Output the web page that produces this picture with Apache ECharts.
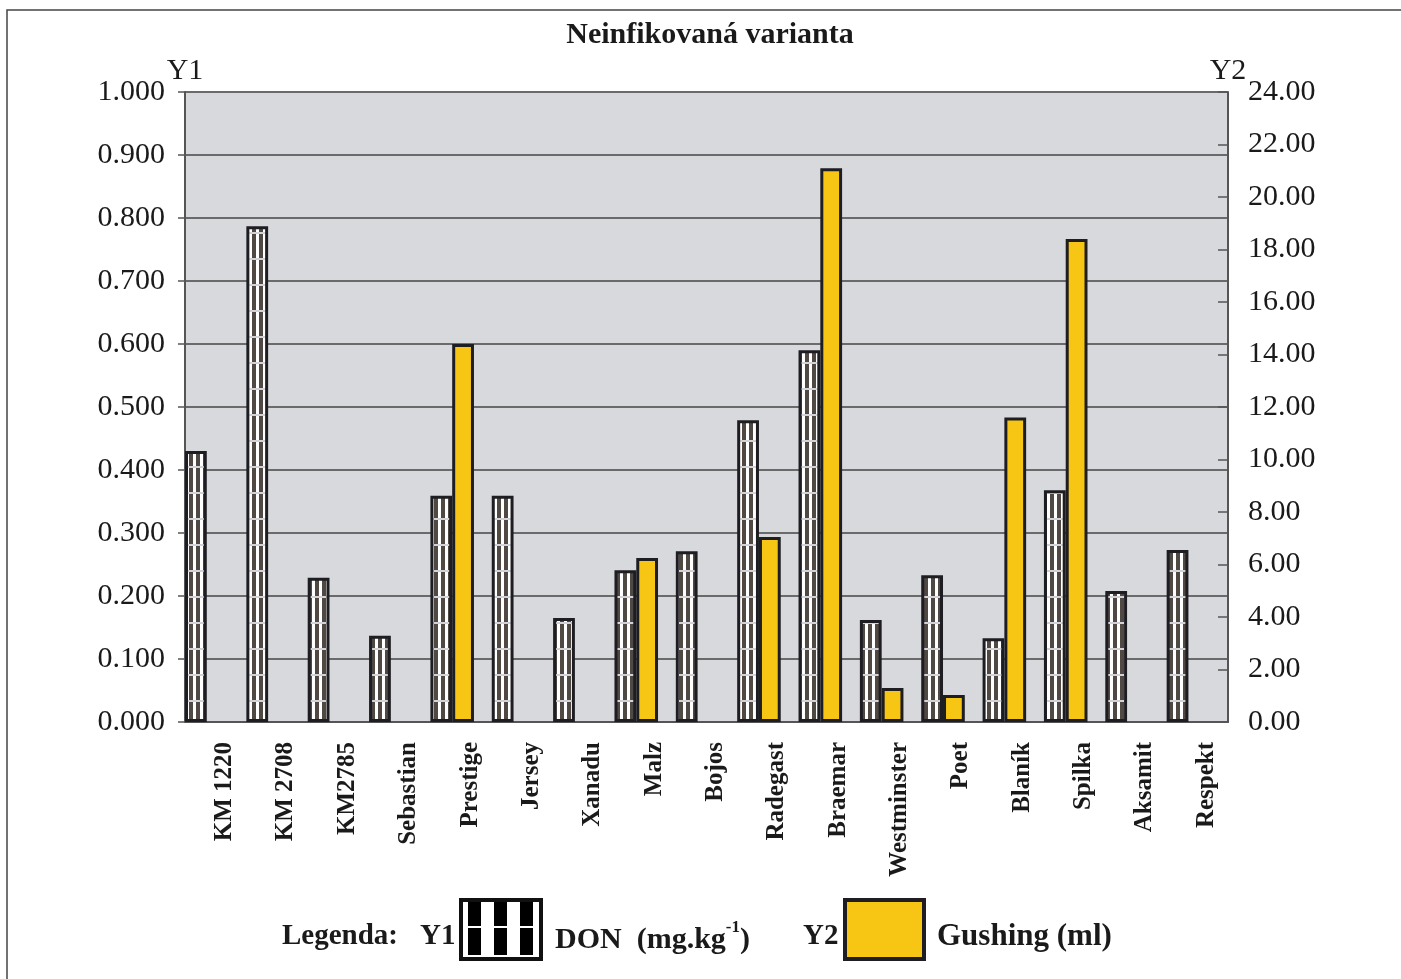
<!DOCTYPE html>
<html>
<head>
<meta charset="utf-8">
<title>Neinfikovaná varianta</title>
<script src="https://cdn.jsdelivr.net/npm/echarts@6/dist/echarts.min.js"></script>
<style>
    html, body { margin: 0; padding: 0; background: #fff; }
    #chart { width: 1401px; height: 979px; }
</style>
</head>
<body>
<div id="chart"></div>
<script>
// odrudy (kategorie)
var odrudy = ['KM 1220', 'KM 2708', 'KM2785', 'Sebastian', 'Prestige', 'Jersey', 'Xanadu', 'Malz', 'Bojos',
    'Radegast', 'Braemar', 'Westminster', 'Poet', 'Blaník', 'Spilka', 'Aksamit', 'Respekt'];
// Y1 - DON (mg.kg-1)
var don = [0.430, 0.787, 0.229, 0.137, 0.359, 0.359, 0.165, 0.241, 0.271,
    0.479, 0.590, 0.162, 0.233, 0.133, 0.368, 0.208, 0.273];
// Y2 - Gushing (ml), '-' = bez hodnoty
var gushing = ['-', '-', '-', '-', 14.4, '-', '-', 6.25, '-',
    7.05, 21.1, 1.3, 1.03, 11.6, 18.4, '-', '-'];
var y1Ticks = { min: 0, max: 1, interval: 0.1 };
var y2Ticks = { min: 0, max: 24, interval: 2 };

var serif = '"Liberation Serif", "DejaVu Serif", serif';

// vzor pro sloupce - svisle pruhy + vodorovne linky
function makePattern(w, h, dark, light, darkW, lineH, lineColor) {
    var c = document.createElement('canvas');
    c.width = w;
    c.height = h;
    var ctx = c.getContext('2d');
    ctx.fillStyle = light;
    ctx.fillRect(0, 0, w, h);
    ctx.fillStyle = dark;
    ctx.fillRect(0, 0, darkW, h);
    ctx.fillStyle = lineColor;
    ctx.fillRect(0, h - lineH, w, lineH);
    return c;
}
var barPattern = makePattern(7, 26, '#4f4843', '#ffffff', 4, 2, '#d2d3d8');
var legendPattern = makePattern(26, 29, '#000000', '#ffffff', 13, 2, '#ffffff');

var myChart = echarts.init(document.getElementById('chart'));
myChart.setOption({
    backgroundColor: '#ffffff',
    animation: false,
    title: {
        text: 'Neinfikovaná varianta',
        left: 705,
        top: 15,
        textAlign: 'center',
        textStyle: {
            fontFamily: serif,
            fontWeight: 'bold',
            fontSize: 30,
            color: '#1a1a1a'
        }
    },
    grid: {
        left: 185,
        right: 173,
        top: 92,
        bottom: 257,
        show: true,
        backgroundColor: '#d8d9dd',
        borderColor: '#8a8a8a',
        borderWidth: 1
    },
    xAxis: {
        type: 'category',
        data: odrudy,
        axisLine: { show: true, lineStyle: { color: '#555', width: 2 } },
        axisTick: { show: false },
        axisLabel: {
            rotate: 90,
            margin: 20,
            interval: 0,
            verticalAlign: 'top',
            lineHeight: 18,
            fontFamily: serif,
            fontWeight: 'bold',
            fontSize: 25,
            color: '#1a1a1a'
        }
    },
    yAxis: [{
        type: 'value',
        name: 'Y1',
        nameGap: 21,
        nameMoveOverlap: false,
        nameTextStyle: { fontFamily: serif, fontSize: 30, color: '#1a1a1a', align: 'center', verticalAlign: 'middle' },
        min: y1Ticks.min,
        max: y1Ticks.max,
        interval: y1Ticks.interval,
        axisLine: { show: true, lineStyle: { color: '#555', width: 2 } },
        axisTick: { show: true, length: 7, lineStyle: { color: '#555', width: 1.5 } },
        axisLabel: {
            margin: 20,
            fontFamily: serif,
            fontSize: 30,
            color: '#1a1a1a',
            formatter: function (v) { return v.toFixed(3); }
        },
        splitLine: { show: true, lineStyle: { color: '#6a6a6a', width: 2 } }
    }, {
        type: 'value',
        name: 'Y2',
        nameGap: 21,
        nameMoveOverlap: false,
        nameTextStyle: { fontFamily: serif, fontSize: 30, color: '#1a1a1a', align: 'center', verticalAlign: 'middle' },
        min: y2Ticks.min,
        max: y2Ticks.max,
        interval: y2Ticks.interval,
        axisLine: { show: true, lineStyle: { color: '#555', width: 2 } },
        axisTick: { show: true, inside: true, length: 10, lineStyle: { color: '#555', width: 1.5 } },
        axisLabel: {
            margin: 20,
            fontFamily: serif,
            fontSize: 30,
            color: '#1a1a1a',
            formatter: function (v) { return v.toFixed(2); }
        },
        splitLine: { show: false }
    }],
    series: [{
        name: 'DON',
        type: 'bar',
        yAxisIndex: 0,
        barWidth: '35.5%',
        barGap: 0,
        itemStyle: {
            color: { image: barPattern, repeat: 'repeat' },
            borderColor: '#1e1e22',
            borderWidth: 3
        },
        data: don
    }, {
        name: 'Gushing',
        type: 'bar',
        yAxisIndex: 1,
        barWidth: '35.5%',
        barGap: 0,
        itemStyle: {
            color: '#f7c513',
            borderColor: '#1e1e22',
            borderWidth: 3
        },
        data: gushing
    }, {
        // prazdna rada - posune dvojici sloupcu k levemu okraji kategorie
        name: 'spacer',
        type: 'bar',
        yAxisIndex: 0,
        barWidth: '29%',
        barGap: 0,
        silent: true,
        data: odrudy.map(function () { return '-'; })
    }],
    graphic: {
        elements: [{
            // ramecek okolo celeho grafu
            type: 'polyline',
            silent: true,
            shape: { points: [[7, 985], [7, 10], [1405, 10]] },
            style: { stroke: '#444', lineWidth: 1.5, fill: null }
        }, {
            type: 'text',
            style: { text: 'Legenda:', x: 282, y: 937, verticalAlign: 'middle', font: 'bold 29px ' + serif, fill: '#1a1a1a' }
        }, {
            type: 'text',
            style: { text: 'Y1', x: 420, y: 937, verticalAlign: 'middle', font: 'bold 29px ' + serif, fill: '#1a1a1a' }
        }, {
            type: 'rect',
            shape: { x: 461, y: 900, width: 80, height: 59 },
            style: { fill: { image: legendPattern, repeat: 'repeat' }, stroke: '#111', lineWidth: 4 }
        }, {
            type: 'text',
            style: {
                text: '{m|DON  (mg.kg}{s|-1}{m|)}',
                x: 555,
                y: 937,
                verticalAlign: 'middle',
                fill: '#1a1a1a',
                rich: {
                    m: { fontFamily: serif, fontWeight: 'bold', fontSize: 30, lineHeight: 36, verticalAlign: 'bottom' },
                    s: { fontFamily: serif, fontWeight: 'bold', fontSize: 17, lineHeight: 36, verticalAlign: 'top' }
                }
            }
        }, {
            type: 'text',
            style: { text: 'Y2', x: 803, y: 937, verticalAlign: 'middle', font: 'bold 29px ' + serif, fill: '#1a1a1a' }
        }, {
            type: 'rect',
            shape: { x: 845, y: 900, width: 79, height: 59 },
            style: { fill: '#f7c513', stroke: '#1e1e22', lineWidth: 4 }
        }, {
            type: 'text',
            style: { text: 'Gushing (ml)', x: 937, y: 937, verticalAlign: 'middle', font: 'bold 31px ' + serif, fill: '#1a1a1a' }
        }]
    }
});
</script>
</body>
</html>
